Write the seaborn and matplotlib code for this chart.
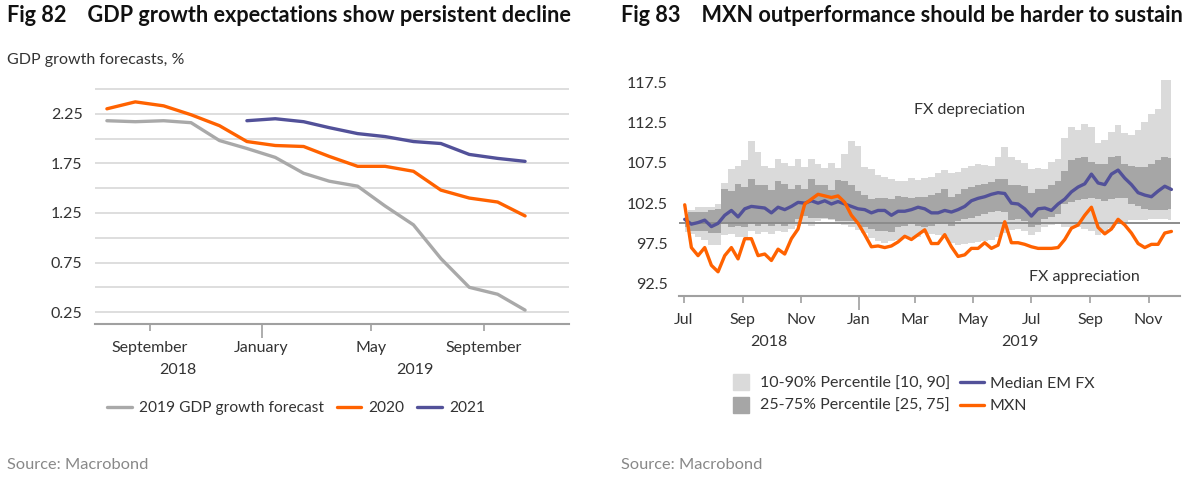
"""
Fig 82 / Fig 83: Mexico GDP forecasts and MXN vs EM FX
"""

import pandas as pd
import numpy as np
import seaborn as sns
import matplotlib.pyplot as plt
from matplotlib.lines import Line2D

sns.set_theme(style="white")
plt.rcParams['font.family'] = ['Lato', 'DejaVu Sans']

GREY, ORANGE, INDIGO = '#a9a9a9', '#ff6200', '#525199'
LIGHT, DARK = '#dadada', '#a6a6a6'
TXT = '#333333'

# ================================= #
# DATA
# ================================= #

# monthly consensus GDP forecasts, %
gdp_dates = ['2018-07-16', '2018-08-16', '2018-09-16', '2018-10-16', '2018-11-16',
             '2018-12-16', '2019-01-16', '2019-02-16', '2019-03-16', '2019-04-16',
             '2019-05-16', '2019-06-16', '2019-07-16', '2019-08-16', '2019-09-16',
             '2019-10-16']
gdp_2019 = [2.18, 2.17, 2.18, 2.16, 1.98, 1.90, 1.81, 1.65, 1.57, 1.52,
            1.32, 1.13, 0.79, 0.50, 0.43, 0.27]
gdp_2020 = [2.30, 2.37, 2.33, 2.24, 2.13, 1.97, 1.93, 1.92, 1.82, 1.72,
            1.72, 1.67, 1.48, 1.40, 1.36, 1.22]
gdp_2021 = [np.nan, np.nan, np.nan, np.nan, np.nan, 2.18, 2.20, 2.17, 2.11, 2.05,
            2.02, 1.97, 1.95, 1.84, 1.80, 1.77]

# weekly FX index (rebased = 100), Jul 2018 - Nov 2019
fx_start = '2018-07-02'
mxn = [102.3, 97.0, 96.0, 97.0, 94.8, 94.0, 96.0, 97.0, 95.6, 98.1, 98.1, 96.0, 96.2, 95.4, 96.8, 96.2, 98.1, 99.3,
       102.4, 103.0, 103.6, 103.4, 103.2, 103.4, 102.6, 101.0, 100.0, 98.6, 97.1, 97.2, 97.0, 97.2, 97.7, 98.4, 98.0, 98.6,
       99.2, 97.5, 97.5, 98.6, 97.1, 95.9, 96.1, 96.9, 96.9, 97.6, 96.9, 97.3, 100.2, 97.6, 97.6, 97.4, 97.1, 96.9,
       96.9, 96.9, 97.0, 98.0, 99.4, 99.8, 101.0, 102.0, 99.5, 98.7, 99.3, 100.5, 99.8, 98.8, 97.5, 97.0, 97.4, 97.4, 98.8, 99.0]
median_em = [100.5, 99.9, 100.1, 100.4, 99.6, 100.0, 101.0, 101.6, 100.8, 101.8, 102.1, 102.0, 101.9, 101.3, 102.0, 101.7, 102.1, 102.6,
             102.5, 102.8, 102.5, 102.8, 102.4, 102.7, 102.4, 102.1, 101.8, 101.7, 101.3, 101.6, 101.6, 101.0, 101.5, 101.5, 101.7, 102.0,
             101.8, 101.3, 101.3, 101.6, 101.4, 101.7, 102.1, 102.8, 103.1, 103.3, 103.6, 103.8, 103.7, 102.5, 102.4, 101.8, 100.9, 101.8,
             101.9, 101.6, 102.4, 103.0, 103.9, 104.5, 104.9, 106.1, 105.0, 104.8, 106.1, 106.6, 105.6, 104.8, 103.8, 103.5, 103.3, 104.0, 104.6, 104.2]
p75 = [100.9, 101.4, 101.4, 101.4, 101.6, 101.8, 104.2, 104.0, 104.9, 104.5, 105.5, 104.7, 104.7, 104.1, 105.3, 104.9, 104.3, 104.7,
       104.3, 105.5, 104.8, 104.7, 104.1, 105.4, 105.3, 104.8, 104.0, 103.5, 103.0, 103.2, 103.1, 103.0, 103.4, 103.3, 103.2, 103.3,
       103.3, 103.5, 103.8, 104.2, 103.3, 103.6, 104.2, 104.5, 104.8, 104.9, 105.1, 105.5, 105.5, 104.7, 104.7, 104.6, 103.8, 104.2,
       104.2, 104.8, 105.2, 106.5, 107.9, 108.1, 108.2, 107.6, 107.3, 107.4, 108.2, 108.4, 107.4, 107.1, 107.0, 107.0, 107.4, 107.9, 108.2, 108.1]
p25 = [99.5, 99.1, 99.1, 99.1, 98.8, 98.8, 100.1, 99.5, 99.7, 99.5, 100.1, 99.7, 99.9, 99.7, 99.9, 99.7, 100.1, 100.5,
       100.9, 100.7, 100.7, 100.7, 100.5, 100.3, 100.3, 100.3, 100.0, 99.6, 99.3, 99.1, 99.0, 98.9, 99.6, 99.7, 99.9, 99.7,
       99.6, 99.7, 99.9, 100.1, 99.7, 100.3, 100.6, 100.7, 100.9, 101.1, 101.4, 101.5, 101.4, 100.4, 100.6, 100.3, 99.6, 99.8,
       100.5, 100.8, 101.1, 102.4, 102.7, 102.9, 103.0, 103.1, 103.0, 102.8, 103.0, 103.2, 103.1, 102.4, 102.1, 101.8, 101.7, 101.6, 101.6, 101.8]
p90 = [101.2, 101.6, 102.0, 102.0, 102.0, 102.4, 105.0, 106.7, 107.1, 107.8, 110.2, 108.8, 107.1, 106.8, 108.0, 107.5, 107.1, 108.0,
       107.0, 108.0, 107.4, 106.9, 107.5, 106.9, 108.6, 110.2, 109.6, 107.0, 106.7, 106.0, 105.7, 105.5, 105.2, 105.3, 105.6, 105.4,
       105.6, 105.8, 106.3, 106.6, 106.2, 106.4, 106.8, 107.1, 107.3, 107.2, 107.1, 108.2, 109.4, 108.2, 107.8, 107.5, 106.7, 106.8,
       106.7, 107.6, 108.0, 110.6, 111.9, 111.6, 112.3, 111.9, 109.9, 110.3, 111.3, 112.2, 111.2, 111.0, 111.6, 112.6, 113.5, 114.2, 117.7, 117.8]
p10 = [98.9, 98.7, 98.3, 98.0, 97.3, 97.3, 98.5, 98.7, 98.3, 98.3, 99.1, 98.7, 98.9, 98.7, 99.1, 98.9, 99.3, 99.7,
       99.9, 99.7, 100.3, 100.6, 100.4, 100.2, 99.8, 99.5, 99.2, 98.8, 98.2, 97.8, 97.6, 97.8, 98.0, 98.2, 98.3, 98.3,
       98.8, 98.7, 98.6, 98.4, 97.6, 97.3, 97.4, 97.6, 97.7, 97.8, 97.9, 98.3, 98.8, 99.2, 99.3, 99.0, 98.5, 98.9,
       99.6, 99.8, 100.0, 99.5, 99.6, 99.5, 99.3, 99.0, 98.6, 98.8, 99.4, 100.0, 100.2, 100.4, 100.4, 100.4, 100.6, 100.6, 100.5, 100.4]

gdp = pd.DataFrame({'date': pd.to_datetime(gdp_dates), '2019 GDP growth forecast': gdp_2019,
                    '2020': gdp_2020, '2021': gdp_2021})
fx = pd.DataFrame({'date': pd.date_range(fx_start, periods=len(mxn), freq='7D'),
                   'MXN': mxn, 'Median EM FX': median_em,
                   'p10': p10, 'p25': p25, 'p75': p75, 'p90': p90})

# ================================= #
# FIGURE
# ================================= #

W, H = 1200, 488
fig = plt.figure(figsize=(W / 100, H / 100), dpi=100)


def px_axes(x0, y0, x1, y1):
    return fig.add_axes([x0 / W, 1 - y1 / H, (x1 - x0) / W, (y1 - y0) / H])


def date_axis(ax, xlim, ticks, labels):
    xlim = pd.to_datetime(xlim)
    ticks = pd.to_datetime(ticks)
    ax.set_xlim(xlim)
    ax.set_xticks(ticks)
    ax.set_xticklabels(labels)
    ax.tick_params(axis='x', direction='out', length=5, width=1.2, color='#a0a0a0',
                   pad=7, labelsize=11.5, labelcolor=TXT, bottom=True)
    for t, d in zip(ax.xaxis.get_major_ticks(), ticks):
        if d.month == 1:
            t.tick1line.set_markersize(10)
    # year labels centred on the visible part of each year
    for yr in sorted(set(ticks.year)):
        a = max(xlim[0], pd.Timestamp(f'{yr}-01-01'))
        b = min(xlim[1], pd.Timestamp(f'{yr + 1}-01-01'))
        mid = a + (b - a) / 2
        ax.annotate(str(yr), xy=(mid, 0), xycoords=('data', 'axes fraction'),
                    xytext=(0, -46), textcoords='offset pixels',
                    ha='center', va='center', fontsize=11.5, color=TXT)
    for s in ['top', 'right', 'left']:
        ax.spines[s].set_visible(False)
    ax.spines['bottom'].set_color('#a0a0a0')
    ax.spines['bottom'].set_linewidth(1.5)
    ax.set_xlabel('')
    ax.set_ylabel('')


# ---------- Fig 82 ----------
ax1 = px_axes(95, 87, 569, 324)
for col, c in zip(['2019 GDP growth forecast', '2020', '2021'], [GREY, ORANGE, INDIGO]):
    sns.lineplot(data=gdp, x='date', y=col, color=c, linewidth=2.4, ax=ax1, label=col)
ax1.set_ylim(0.13, 2.52)
ax1.set_yticks(np.arange(0.25, 2.3, 0.5))
ax1.set_yticks(np.arange(0.5, 2.6, 0.5), minor=True)
ax1.yaxis.set_major_formatter(plt.FuncFormatter(lambda v, p: f'{v:.2f}'))
ax1.grid(axis='y', which='both', color='#d4d4d4', linewidth=1.1)
ax1.tick_params(axis='y', which='both', length=0, pad=9, labelsize=11.5, labelcolor=TXT)
date_axis(ax1, ['2018-07-03', '2019-12-03'],
          ['2018-09-01', '2019-01-01', '2019-05-01', '2019-09-01'],
          ['September', 'January', 'May', 'September'])
ax1.legend(loc='center', bbox_to_anchor=(296 / W, 1 - 408 / H), bbox_transform=fig.transFigure,
           ncol=3, frameon=False, fontsize=11.2, handlelength=1.6, handletextpad=0.45,
           columnspacing=0.8, labelcolor=TXT)

# ---------- Fig 83 ----------
ax2 = px_axes(679, 70, 1180, 296)
ax2.fill_between(fx['date'], fx['p10'], fx['p90'], step='mid', color=LIGHT, linewidth=0)
ax2.fill_between(fx['date'], fx['p25'], fx['p75'], step='mid', color=DARK, linewidth=0)
ax2.axhline(100, color='#8c8c8c', linewidth=1.4)
sns.lineplot(data=fx, x='date', y='Median EM FX', color=INDIGO, linewidth=2.4, ax=ax2)
sns.lineplot(data=fx, x='date', y='MXN', color=ORANGE, linewidth=2.4, ax=ax2)
ax2.set_ylim(91.0, 119.0)
ax2.set_yticks(np.arange(92.5, 118, 5))
ax2.yaxis.set_major_formatter(plt.FuncFormatter(lambda v, p: f'{v:.1f}'))
ax2.tick_params(axis='y', length=0, pad=8, labelsize=11.5, labelcolor=TXT)
date_axis(ax2, ['2018-06-26', '2019-12-04'],
          ['2018-07-01', '2018-09-01', '2018-11-01', '2019-01-01', '2019-03-01',
           '2019-05-01', '2019-07-01', '2019-09-01', '2019-11-01'],
          ['Jul', 'Sep', 'Nov', 'Jan', 'Mar', 'May', 'Jul', 'Sep', 'Nov'])
ax2.text(pd.Timestamp('2019-04-27'), 114.0, 'FX depreciation', ha='center', va='center',
         fontsize=11.5, color=TXT)
ax2.text(pd.Timestamp('2019-08-26'), 93.4, 'FX appreciation', ha='center', va='center',
         fontsize=11.5, color=TXT)
handles = [Line2D([], [], marker='s', linestyle='none', markersize=11, color=LIGHT),
           Line2D([], [], marker='s', linestyle='none', markersize=11, color=DARK),
           Line2D([], [], color=INDIGO, linewidth=2.4),
           Line2D([], [], color=ORANGE, linewidth=2.4)]
labels = ['10-90% Percentile [10, 90]', '25-75% Percentile [25, 75]', 'Median EM FX', 'MXN']
ax2.legend(handles, labels, loc='center', bbox_to_anchor=(912 / W, 1 - 395 / H),
           bbox_transform=fig.transFigure, ncol=2, frameon=False, fontsize=11.5,
           handlelength=1.5, handletextpad=0.4, columnspacing=0.6, labelspacing=0.5,
           labelcolor=TXT)

# ---------- titles and sources ----------
fig.text(7 / W, 1 - 16 / H, 'Fig 82    GDP growth expectations show persistent decline',
         ha='left', va='center', fontsize=15.6, fontweight='bold', color='#111111')
fig.text(621 / W, 1 - 16 / H, 'Fig 83    MXN outperformance should be harder to sustain',
         ha='left', va='center', fontsize=15.6, fontweight='bold', color='#111111')
fig.text(7 / W, 1 - 60 / H, 'GDP growth forecasts, %', ha='left', va='center',
         fontsize=11.5, color=TXT)
fig.text(7 / W, 1 - 465 / H, 'Source: Macrobond', ha='left', va='center',
         fontsize=11.8, color='#888888')
fig.text(621 / W, 1 - 465 / H, 'Source: Macrobond', ha='left', va='center',
         fontsize=11.8, color='#888888')

fig.savefig('out.png', dpi=100)
plt.close('all')
